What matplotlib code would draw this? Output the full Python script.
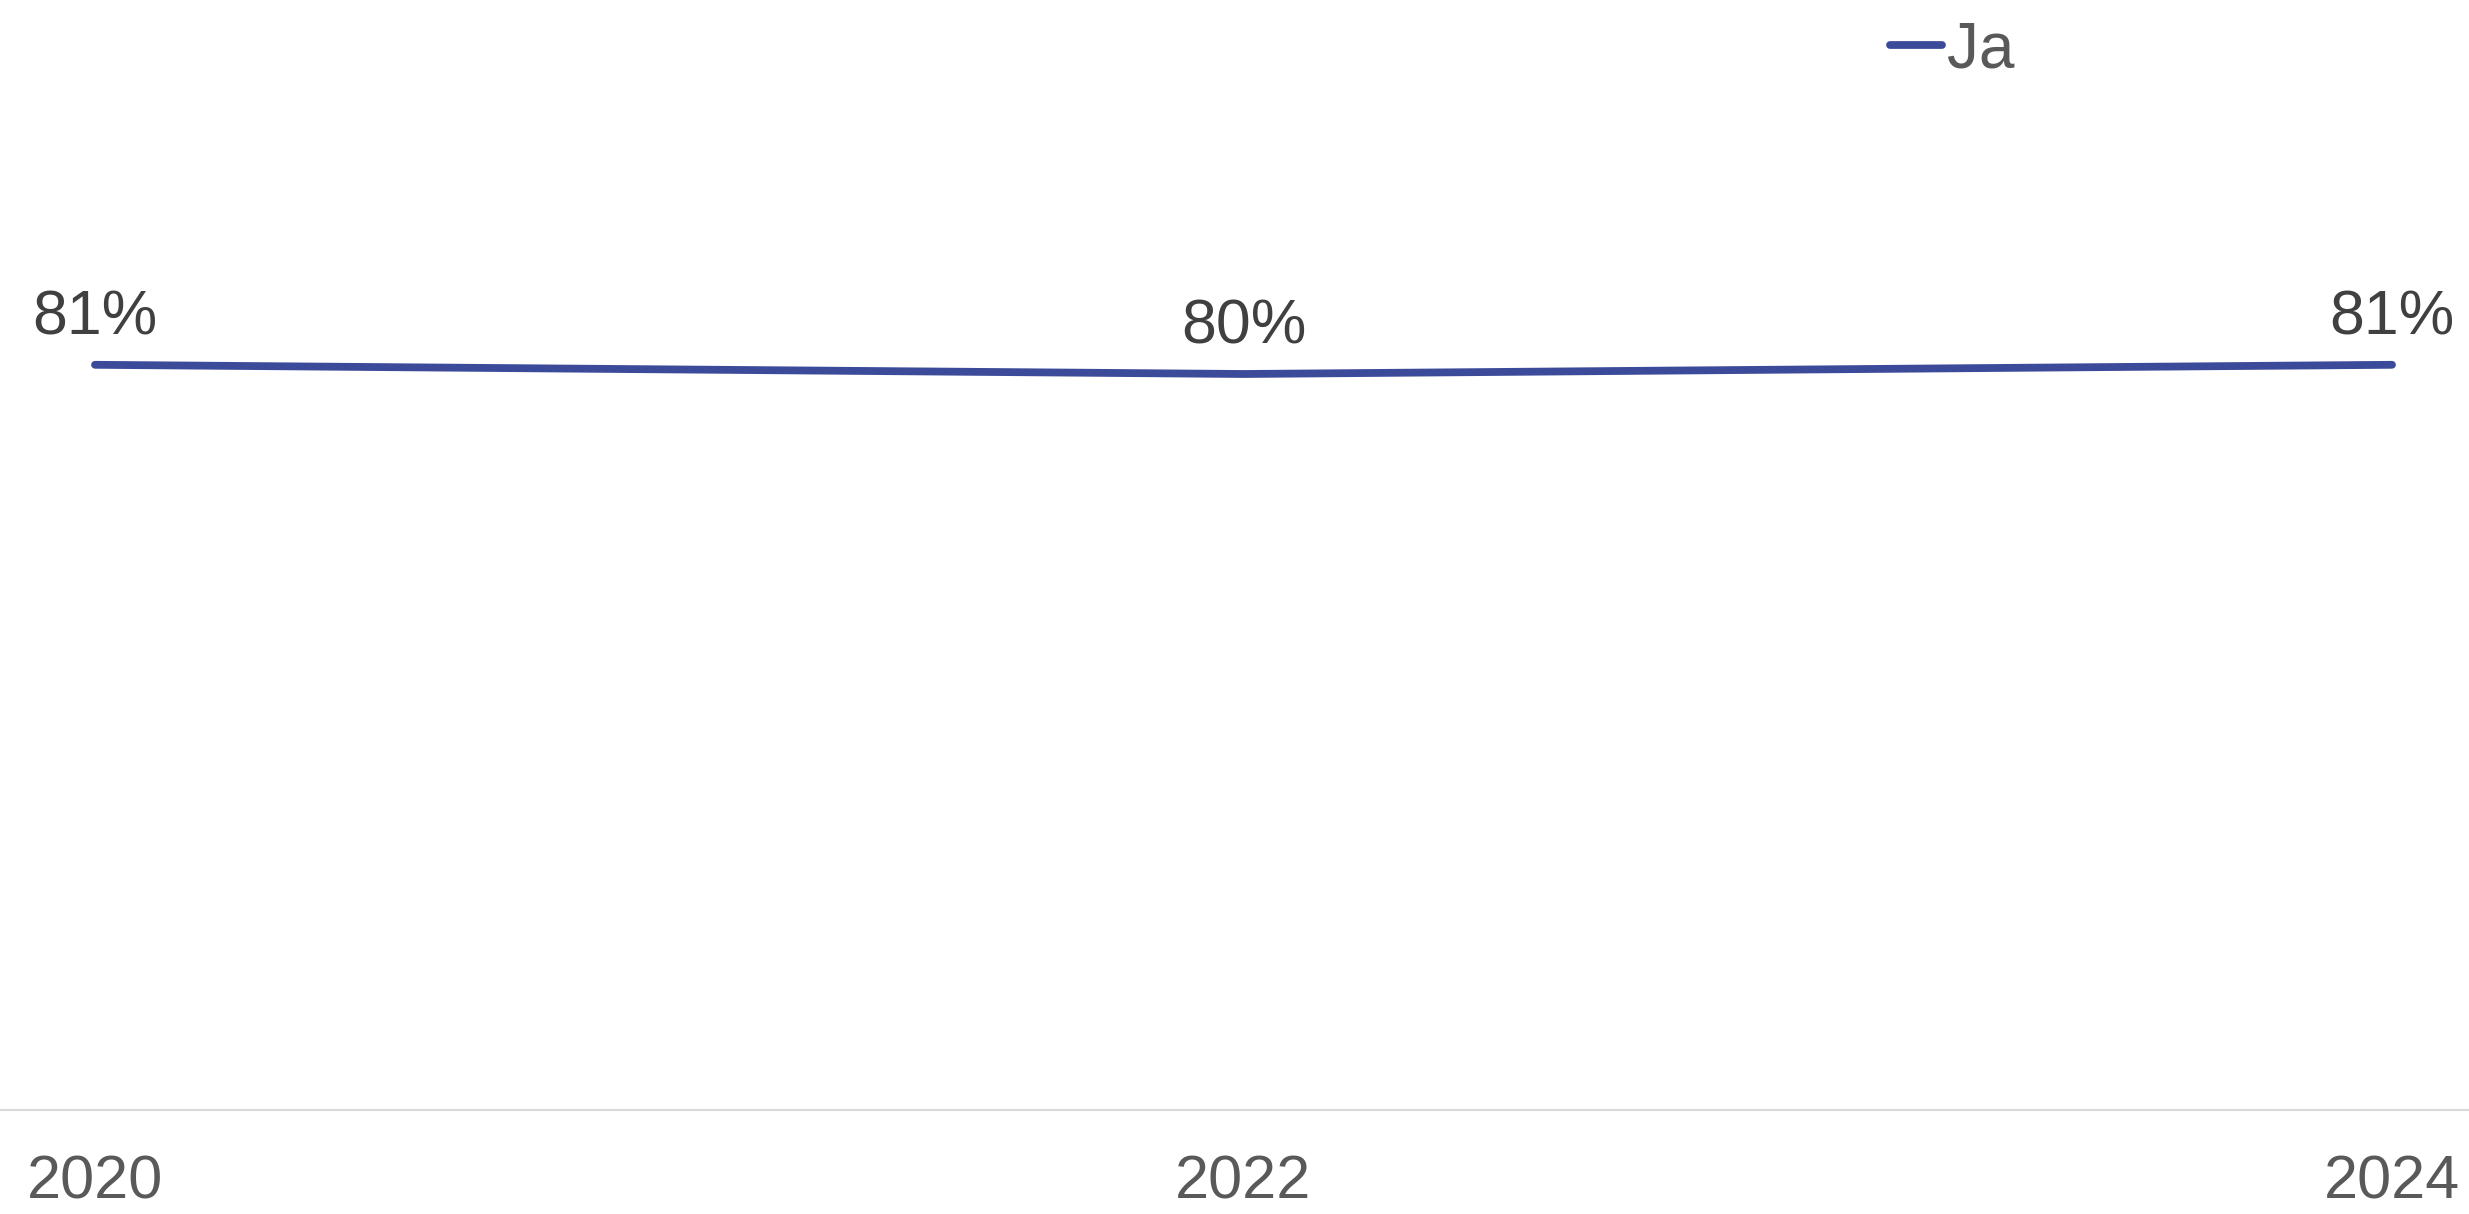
import matplotlib
matplotlib.use("Agg")
import matplotlib.pyplot as plt

years = [2020, 2022, 2024]
ja_values = [81, 80, 81]
labels = ["81%", "80%", "81%"]
series_name = "Ja"

W, H, DPI = 2469, 1214, 100
fig = plt.figure(figsize=(W / DPI, H / DPI), dpi=DPI)
fig.patch.set_facecolor("white")

font = ["Liberation Sans", "DejaVu Sans"]
plt.rcParams["font.family"] = font

ax = fig.add_axes([0, (H - 1110) / H, 1, 1110 / H])
line_color = "#3C4A9A"
ax.plot(years, ja_values, color=line_color, lw=5.6, solid_capstyle="round",
        solid_joinstyle="round", label=series_name)

px_per_year = (2392 - 95) / 4
ax.set_xlim(2020 - 95 / px_per_year, 2024 + (W - 2392) / px_per_year)
ax.set_ylim(0, 1110 / 9.2)

for x, y, t in zip(years, ja_values, labels):
    ax.annotate(t, (x, y), xytext=(0, 22), textcoords="offset points",
                ha="center", va="baseline", fontsize=45, color="#404040")

for s in ["top", "right", "left"]:
    ax.spines[s].set_visible(False)
ax.spines["bottom"].set_color("#D9D9D9")
ax.spines["bottom"].set_linewidth(1.5)
ax.set_yticks([])
ax.set_xticks(years)
ax.set_xticklabels([str(y) for y in years])
ax.tick_params(axis="x", length=0, pad=32, labelsize=44, labelcolor="#595959")

leg = fig.legend(loc="center left", bbox_to_anchor=(1890 / W, 1 - 50 / H),
                 frameon=False, fontsize=46, handlelength=0.82,
                 handletextpad=0.08, borderpad=0, borderaxespad=0)
for txt in leg.get_texts():
    txt.set_color("#595959")

fig.savefig("out.png", dpi=DPI, facecolor="white")
